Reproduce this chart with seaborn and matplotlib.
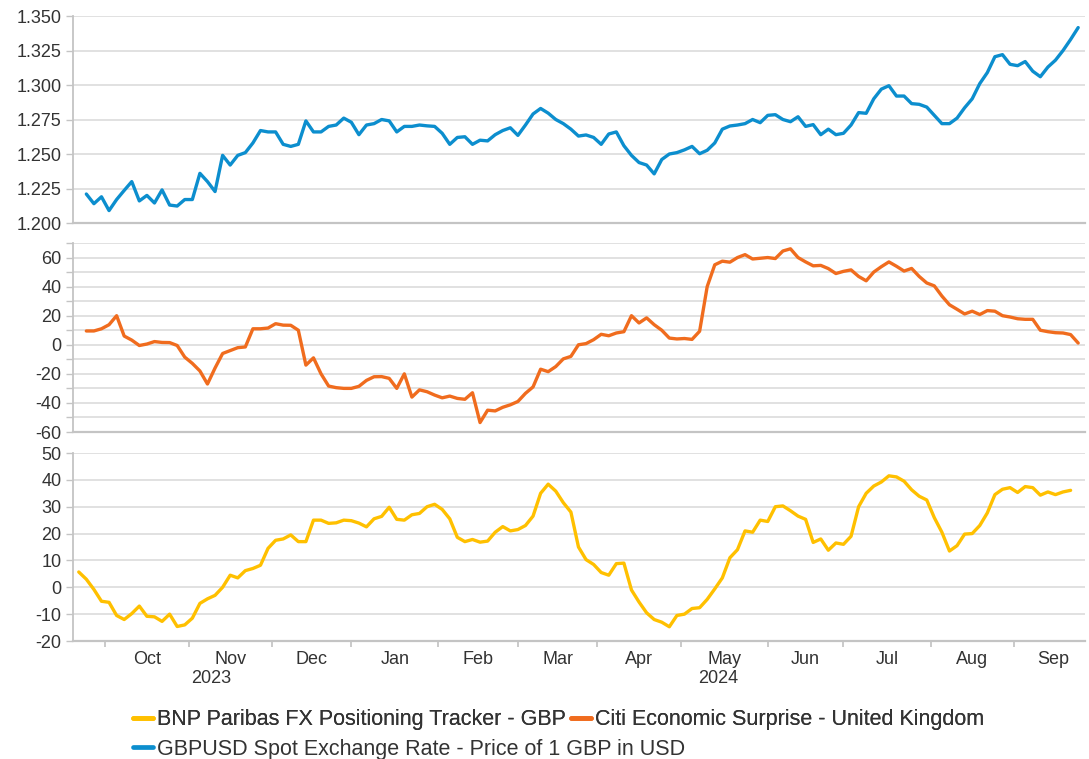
import numpy as np
import pandas as pd
import seaborn as sns
import matplotlib.pyplot as plt
import matplotlib.transforms as mtransforms
from matplotlib.lines import Line2D

# Readings every second business day, 21 Sep 2023 - 25 Sep 2024
dates = pd.bdate_range('2023-09-21', '2024-09-25')[::2]
nan = np.nan

gbpusd = [
    nan, 1.221, 1.214, 1.219, 1.209, 1.217, 1.2236, 1.230, 1.216, 1.220,
    1.2145, 1.224, 1.213, 1.2123, 1.217, 1.217, 1.236, 1.230, 1.2228, 1.249,
    1.242, 1.249, 1.251, 1.258, 1.267, 1.266, 1.266, 1.257, 1.2555, 1.257,
    1.274, 1.266, 1.266, 1.270, 1.271, 1.276, 1.273, 1.264, 1.271, 1.272,
    1.275, 1.274, 1.266, 1.270, 1.270, 1.271, 1.2704, 1.270, 1.265, 1.257,
    1.262, 1.2625, 1.257, 1.260, 1.2595, 1.264, 1.267, 1.269, 1.2635, 1.271,
    1.279, 1.283, 1.2796, 1.275, 1.272, 1.268, 1.263, 1.2638, 1.262, 1.257,
    1.2645, 1.266, 1.256, 1.249, 1.2438, 1.242, 1.2356, 1.246, 1.250, 1.251,
    1.253, 1.2555, 1.2502, 1.2527, 1.258, 1.268, 1.2703, 1.271, 1.272, 1.275,
    1.2727, 1.278, 1.2785, 1.275, 1.2734, 1.277, 1.270, 1.2713, 1.264, 1.268,
    1.264, 1.265, 1.271, 1.280, 1.2795, 1.290, 1.297, 1.2995, 1.292, 1.292,
    1.2865, 1.286, 1.284, 1.278, 1.272, 1.272, 1.276, 1.2835, 1.290, 1.301,
    1.309, 1.3205, 1.322, 1.315, 1.314, 1.317, 1.310, 1.306, 1.313, 1.318,
    1.325, 1.333, 1.3416,
]

citi = [
    nan, 9.5, 9.5, 11, 13.8, 20, 6, 3.2, -0.5, 0.5,
    2.2, 1.6, 1.5, -0.5, -8.5, -12.8, -18, -27, -16, -6,
    -4, -2, -1.5, 11, 11, 11.5, 14.5, 13.5, 13.4, 10,
    -14, -9, -20, -28.4, -29.5, -30, -30, -28.6, -24.5, -22,
    -21.9, -23.1, -30, -20, -36, -31, -32.3, -34.6, -36.5, -35.3,
    -36.9, -37.5, -33, -53.5, -45, -45.5, -43, -41.3, -39, -33.4,
    -29, -16.8, -18.5, -15, -9.7, -8, 0, 0.8, 3.5, 7.2,
    6.2, 8.1, 9.0, 20, 15, 18.5, 13.8, 10, 4.6, 4,
    4.3, 3.7, 9.3, 40, 55, 57.5, 56.8, 60, 62, 59,
    59.5, 60, 59.3, 64.5, 66, 60, 57, 54.3, 54.6, 52.4,
    49, 50.5, 51.5, 47, 44, 50, 53.7, 57, 54, 50.7,
    52.5, 47, 42.5, 40.5, 33.5, 27.5, 24.4, 21.2, 23.1, 20.8,
    23.5, 23.1, 20, 19.1, 17.9, 17.5, 17.5, 10, 9, 8.3,
    8.1, 7, 1.2,
]

bnp = [
    5.7, 3.0, -0.8, -5.2, -5.6, -10.5, -12, -9.8, -7, -10.8,
    -11, -12.7, -10, -14.6, -14, -11.5, -6, -4.3, -3, 0,
    4.5, 3.5, 6.2, 7, 8.2, 14.5, 17.5, 18, 19.5, 17,
    17, 25, 25, 23.8, 24, 25, 24.8, 23.9, 22.5, 25.5,
    26.4, 29.8, 25.3, 25, 27, 27.5, 30, 30.9, 29, 25.5,
    18.6, 17, 17.8, 16.8, 17.2, 20.5, 22.6, 21, 21.5, 23,
    26.5, 35, 38.4, 35.8, 31.5, 28, 15, 10.3, 8.5, 5.5,
    4.5, 8.8, 9, -1, -5.5, -9.5, -12, -13, -14.7, -10.5,
    -10, -7.9, -7.6, -4.5, -0.6, 3.5, 11, 14, 21, 20.5,
    25, 24.5, 30, 30.3, 28.5, 26.5, 25.3, 16.7, 18, 13.8,
    16.5, 16, 19, 30, 35, 37.7, 39.2, 41.5, 41.1, 39.5,
    36.3, 33.9, 32.5, 25.9, 20.5, 13.5, 15.5, 19.8, 20, 23,
    27.7, 34.5, 36.5, 37.1, 35.3, 37.5, 37.1, 34.3, 35.5, 34.5,
    35.5, 36.1, nan,
]

labels = [
    'BNP Paribas FX Positioning Tracker - GBP',
    'Citi Economic Surprise - United Kingdom',
    'GBPUSD Spot Exchange Rate - Price of 1 GBP in USD',
]
colors = ['#FFC000', '#F06C1E', '#0C8ECE']

sns.set_theme(style='white')
plt.rcParams['font.family'] = ['Liberation Sans', 'DejaVu Sans']
plt.rcParams['axes.unicode_minus'] = False

# x axis runs on business days counted from 25 Sep 2023
origin = np.datetime64('2023-09-25')
bd = np.busday_count(origin, dates.values.astype('datetime64[D]'))
df = pd.DataFrame({'bd': bd, 'gbpusd': gbpusd, 'citi': citi, 'bnp': bnp})

fig = plt.figure(figsize=(10.89, 7.59), dpi=100)
L, W = 72.7 / 1089, (1085 - 72.7) / 1089
ax1 = fig.add_axes([L, 1 - 223 / 759, W, 207 / 759])
ax2 = fig.add_axes([L, 1 - 432 / 759, W, 189 / 759])
ax3 = fig.add_axes([L, 1 - 641 / 759, W, 188 / 759])

grid_c, spine_c, text_c = '#dcdcdc', '#c4c4c4', '#333333'
lw = 2.4
fs = 13

sns.lineplot(data=df, x='bd', y='gbpusd', ax=ax1, color=colors[2], lw=lw)
sns.lineplot(data=df, x='bd', y='citi', ax=ax2, color=colors[1], lw=lw)
sns.lineplot(data=df, x='bd', y='bnp', ax=ax3, color=colors[0], lw=lw)

ax1.set_ylim(1.2, 1.35)
ax1.set_yticks(np.arange(1.2, 1.3501, 0.025))
ax1.set_yticklabels([f'{v:.3f}' for v in np.arange(1.2, 1.3501, 0.025)])

ax2.set_ylim(-60, 70)
ax2.set_yticks(np.arange(-60, 61, 20))
ax2.set_yticks(np.arange(-50, 71, 20), minor=True)

ax3.set_ylim(-20, 50)
ax3.set_yticks(np.arange(-20, 51, 10))

# month boundaries and centred month labels
months = pd.date_range('2023-10-01', '2024-10-01', freq='MS')
mpos = np.busday_count(origin, months.values.astype('datetime64[D]'))
mid = (mpos[:-1] + mpos[1:]) / 2
mnames = [m.strftime('%b') for m in months[:-1]]

for ax in (ax1, ax2, ax3):
    ax.set_xlim(-3.6, 263.8)
    ax.set_xlabel('')
    ax.set_ylabel('')
    for s in ('top', 'right'):
        ax.spines[s].set_visible(False)
    ax.spines['left'].set_color(spine_c)
    ax.spines['bottom'].set_color(spine_c)
    ax.spines['left'].set_linewidth(1.3)
    ax.spines['bottom'].set_linewidth(1.6)
    ax.grid(axis='y', which='both', color=grid_c, lw=1.2)
    ax.set_axisbelow(True)
    ax.tick_params(axis='y', which='both', left=True, length=5, width=1,
                   color=spine_c, labelsize=fs, labelcolor=text_c, pad=3)
    ax.set_xticks(mpos[:-1])
    ax.set_xticks(mid, minor=True)
    ax.tick_params(axis='x', which='major', bottom=True, length=4,
                   color=spine_c, labelbottom=False)
    ax.tick_params(axis='x', which='minor', bottom=False, length=0)

ax1.tick_params(axis='x', which='major', bottom=False)
ax2.tick_params(axis='x', which='major', bottom=False)
ax3.set_xticklabels(mnames, minor=True)
ax3.tick_params(axis='x', which='minor', labelbottom=True, labelsize=fs,
                labelcolor=text_c, pad=7)

trans = mtransforms.blended_transform_factory(ax3.transData, ax3.transAxes)
ax3.text(33.1, -0.2, '2023', transform=trans, ha='center', va='center',
         fontsize=fs, color=text_c)
ax3.text(167, -0.2, '2024', transform=trans, ha='center', va='center',
         fontsize=fs, color=text_c)

handles = [Line2D([], [], color=c, lw=3.4) for c in colors]
leg_kw = dict(frameon=False, fontsize=15.5, handlelength=0.95,
              handletextpad=0.15, columnspacing=0.25, borderaxespad=0,
              borderpad=0, labelcolor=text_c)
leg1 = fig.legend(handles[:2], labels[:2], ncol=2, loc='center left',
                  bbox_to_anchor=(133 / 1089, 1 - 720 / 759), **leg_kw)
fig.add_artist(leg1)
fig.legend(handles[2:], labels[2:], ncol=1, loc='center left',
           bbox_to_anchor=(133 / 1089, 1 - 749 / 759), **leg_kw)

fig.savefig('out.png', dpi=100, facecolor='white')
